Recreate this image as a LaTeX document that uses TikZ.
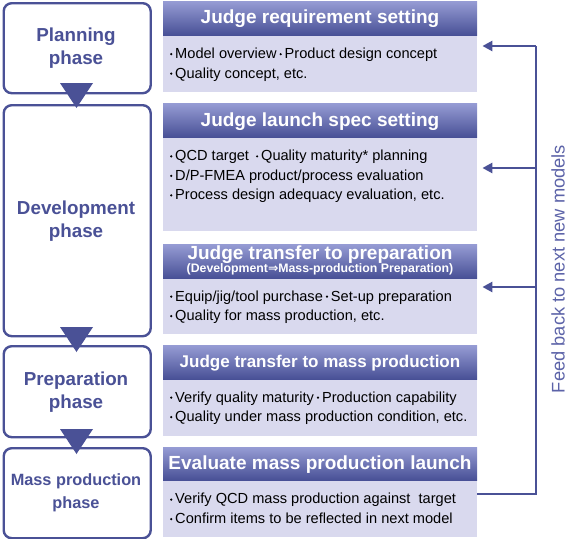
\documentclass[tikz,border=0pt]{standalone}
\usepackage{fontspec}
\setmainfont{Liberation Sans}
\newfontfamily\dejavu{DejaVu Sans}
\usetikzlibrary{arrows.meta}
\definecolor{navy}{RGB}{74,81,150}
\definecolor{hdtop}{RGB}{150,156,212}
\definecolor{hdbot}{RGB}{72,80,150}
\definecolor{bodyfill}{RGB}{217,217,238}
\definecolor{fbtext}{RGB}{92,99,168}
\newcommand{\bul}{\makebox[0.55em]{\raisebox{0.3em}{\rule{0pt}{0pt}\tikz[baseline=0pt]\fill (0,0) circle (1.2pt);}}}
\tikzset{
  x=1pt, y=-1pt,
  phasebox/.style={draw=navy, line width=2.4pt, rounded corners=8pt, fill=white,
    minimum width=147pt, anchor=north west, inner sep=0pt},
  phaselbl/.style={text=navy, align=center, font=\fontsize{18.8}{23}\selectfont\bfseries, inner sep=0pt},
  hdr/.style={top color=hdtop, bottom color=hdbot, minimum width=314pt, anchor=north west,
    inner sep=0pt},
  hdrtext/.style={text=white, font=\fontsize{19}{19}\selectfont\bfseries, inner sep=0pt},
  bodybox/.style={fill=bodyfill, minimum width=314pt, anchor=north west, inner sep=0pt},
  bodytext/.style={anchor=west, font=\fontsize{14.6}{19.5}\selectfont, text=black, align=left, inner sep=0pt},
  tri/.style={fill=navy, draw=none},
  fb/.style={draw=navy, line width=2.6pt},
  fbarrow/.style={fb, -{Triangle[length=10pt,width=10pt]}}
}
\begin{document}
\begin{tikzpicture}
\useasboundingbox (0,0) rectangle (570,538);
% phase boxes
\node[phasebox, minimum height=90pt] (plan) at (2.5,2) {};
\node[phasebox, minimum height=231pt] (dev) at (2.5,104) {};
\node[phasebox, minimum height=91pt] (prep) at (2.5,345) {};
\node[phasebox, minimum height=90pt] (mass) at (2.5,447) {};
\node[phaselbl] (planL) at (76,48) {Planning\\phase};
\node[phaselbl] (devL) at (76,221) {Development\\phase};
\node[phaselbl] (prepL) at (76,392) {Preparation\\phase};
\node[phaselbl, font=\fontsize{16.3}{23}\selectfont\bfseries] (massL) at (76,493) {Mass production\\phase};
% triangles
\fill[tri] (60,83) -- (93,83) -- (76.5,108) -- cycle;
\fill[tri] (60,327) -- (93,327) -- (76.5,352) -- cycle;
\fill[tri] (60,429) -- (93,429) -- (76.5,454) -- cycle;
% right boxes
\node[bodybox, minimum height=57pt] (b1) at (163,35) {};
\node[hdr, minimum height=34pt] (h1) at (163,1) {};
\node[hdrtext] (h1t) at (320,19) {Judge requirement setting};
\node[bodytext] (t1) at (167,64.5) {\bul Model overview\bul Product design concept\\\bul Quality concept, etc.};

\node[bodybox, minimum height=94pt] (b2) at (163,137) {};
\node[hdr, minimum height=34pt] (h2) at (163,103) {};
\node[hdrtext] (h2t) at (320,122) {Judge launch spec setting};
\node[bodytext] (t2) at (167,176.5) {\bul QCD target \bul Quality maturity* planning\\\bul D/P-FMEA product/process evaluation\\\bul Process design adequacy evaluation, etc.};

\node[bodybox, minimum height=56pt] (b3) at (163,278) {};
\node[hdr, minimum height=34pt] (h3) at (163,244) {};
\node[hdrtext] (h3a) at (320,255) {Judge transfer to preparation};
\node[text=white, font=\fontsize{12.3}{12}\selectfont\bfseries, inner sep=0pt] (h3b) at (320,269) {(Development{\dejavu\bfseries ⇒}Mass-production Preparation)};
\node[bodytext] (t3) at (167,307) {\bul Equip/jig/tool purchase\bul Set-up preparation\\\bul Quality for mass production, etc.};

\node[bodybox, minimum height=57pt] (b4) at (163,379) {};
\node[hdr, minimum height=34pt] (h4) at (163,345) {};
\node[hdrtext, font=\fontsize{17}{17}\selectfont\bfseries] (h4t) at (320,363) {Judge transfer to mass production};
\node[bodytext] (t4) at (167,408) {\bul Verify quality maturity\bul Production capability\\\bul Quality under mass production condition, etc.};

\node[bodybox, minimum height=57pt] (b5) at (163,480) {};
\node[hdr, minimum height=33pt] (h5) at (163,447) {};
\node[hdrtext] (h5t) at (320,465) {Evaluate mass production launch};
\node[bodytext] (t5) at (167,508.5) {\bul Verify QCD mass production against\ \ target\\\bul Confirm items to be reflected in next model};

% feedback
\coordinate (c5) at (536,494);
\coordinate (c1) at (536,46);
\coordinate (c2) at (536,168);
\coordinate (c3) at (536,287);
\draw[fb] (b5.east |- c5) -- (c5) -- (c1);
\draw[fbarrow] (c1) -- ([xshift=5pt]b1.east |- c1);
\draw[fbarrow] (c2) -- ([xshift=5pt]b2.east |- c2);
\draw[fbarrow] (c3) -- ([xshift=5pt]b3.east |- c3);
\node[rotate=90, text=fbtext, font=\fontsize{18.3}{18}\selectfont, inner sep=0pt] (fbl) at (558,269) {Feed back to next new models};
\end{tikzpicture}
\end{document}
